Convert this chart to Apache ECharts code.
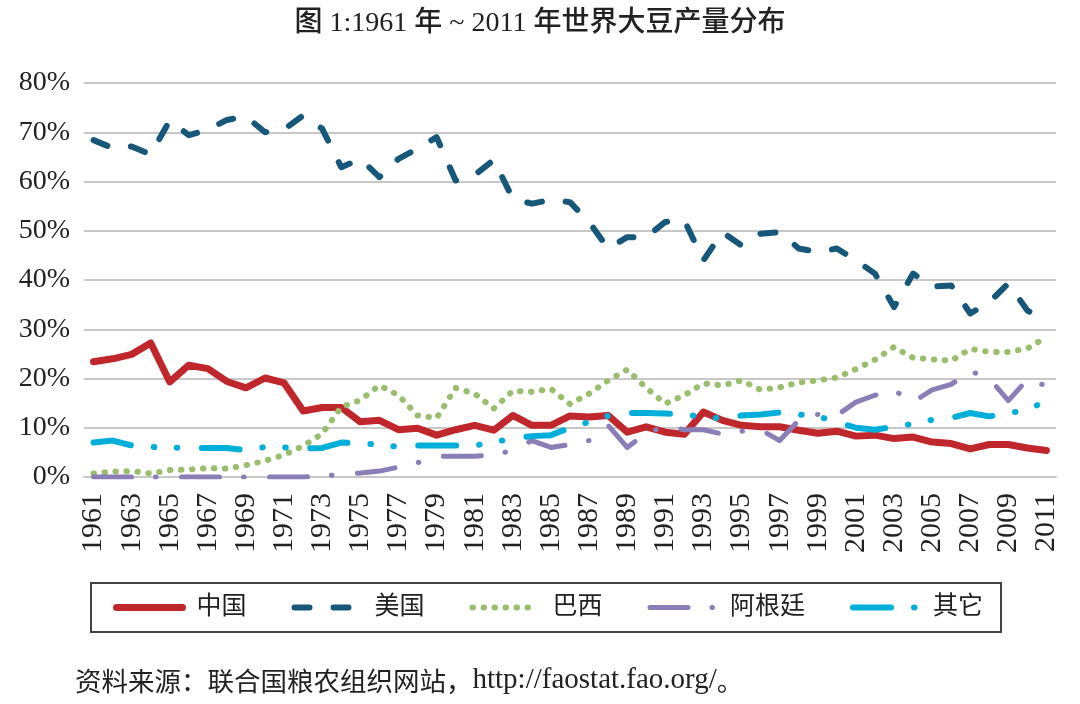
<!DOCTYPE html>
<html>
<head>
<meta charset="utf-8">
<script src="https://cdn.jsdelivr.net/npm/echarts@6/dist/echarts.min.js"></script>
<style>
  html, body { margin: 0; padding: 0; background: #fff; }
  #main { width: 1080px; height: 704px; }
</style>
</head>
<body>
<div id="main"></div>
<script>
// 年份 1961 ~ 2011
var years = [];
for (var y = 1961; y <= 2011; y++) { years.push(String(y)); }

// 各国占世界大豆产量的比例 (%)
var china = [23.4, 24.0, 24.9, 27.2, 19.3, 22.7, 22.0, 19.4, 18.1, 20.1,
  19.1, 13.4, 14.1, 14.1, 11.2, 11.5, 9.6, 9.9, 8.5, 9.6,
  10.5, 9.5, 12.5, 10.5, 10.5, 12.4, 12.2, 12.5, 9.1, 10.2,
  9.1, 8.7, 13.2, 11.5, 10.5, 10.2, 10.2, 9.5, 8.9, 9.3,
  8.3, 8.5, 7.8, 8.1, 7.1, 6.8, 5.7, 6.6, 6.6, 5.9, 5.4];
var usa = [68.4, 66.8, 67.1, 65.5, 72.4, 69.4, 70.5, 72.5, 73.2, 70.0,
  70.6, 73.4, 70.7, 62.9, 64.6, 60.9, 64.6, 66.7, 69.0, 60.2,
  61.3, 64.4, 56.5, 55.5, 56.3, 55.8, 51.8, 46.4, 48.7, 48.7,
  51.8, 52.1, 44.0, 49.7, 47.0, 49.4, 49.7, 46.4, 45.7, 46.4,
  44.0, 41.3, 34.5, 41.3, 38.7, 38.9, 33.2, 35.5, 39.3, 33.8, 31.7];
var brazil = [0.7, 1.1, 1.2, 0.7, 1.4, 1.5, 1.8, 1.7, 2.4, 3.3,
  4.5, 6.3, 8.8, 14.2, 15.6, 18.6, 16.6, 12.5, 12.0, 18.1,
  16.9, 13.9, 17.5, 17.3, 17.9, 14.8, 16.9, 19.6, 21.8, 18.1,
  14.9, 16.6, 19.0, 18.6, 19.6, 17.7, 18.2, 19.2, 19.6, 20.2,
  21.9, 23.8, 26.4, 24.2, 23.9, 23.6, 26.0, 25.4, 25.4, 26.1, 28.4];
var argentina = [0, 0, 0, 0, 0, 0, 0, 0, 0, 0,
  0, 0, 0.2, 0.5, 0.8, 1.2, 2.0, 2.9, 4.2, 4.2,
  4.2, 4.5, 5.4, 7.4, 6.0, 6.6, 7.4, 10.5, 6.0, 8.9,
  10.3, 9.6, 9.6, 8.7, 9.3, 9.6, 7.4, 11.5, 12.7, 12.5,
  15.2, 16.6, 17.6, 15.2, 17.7, 18.8, 21.5, 20.0, 15.5, 19.8, 18.5];
var others = [7.0, 7.4, 6.4, 6.1, 6.0, 5.9, 5.9, 5.9, 5.4, 6.1,
  6.0, 5.8, 5.9, 7.0, 6.8, 6.6, 6.1, 6.4, 6.4, 6.4,
  6.4, 7.1, 7.8, 8.3, 8.5, 10.0, 11.2, 12.4, 13.0, 13.0,
  12.9, 12.6, 12.3, 11.8, 12.5, 12.7, 13.1, 12.7, 12.3, 11.2,
  10.0, 9.6, 10.2, 10.8, 11.6, 12.0, 13.0, 12.3, 13.0, 13.6, 15.5];

var seriesNames = ['中国', '美国', '巴西', '阿根廷', '其它'];

var FONT = '"Liberation Serif", "Noto Sans CJK SC", serif';

// 线型: 颜色, 线宽, 虚线样式
var styles = [
    { color: '#c0272d', width: 7, dash: 'solid' },
    { color: '#17587a', width: 6, dash: [15, 24] },
    { color: '#9bbd6e', width: 6, dash: [0.5, 10.5] },
    { color: '#8b7db6', width: 5, dash: [38, 24, 0.5, 25.5] },
    { color: '#00afd9', width: 6, dash: [38, 23, 0.5, 22.5, 0.5, 24.5] }
];
var seriesData = [china, usa, brazil, argentina, others];

var series = [];
var legendData = [];
for (var i = 0; i < seriesNames.length; i++) {
    var s = styles[i];
    series.push({
        name: seriesNames[i],
        type: 'line',
        data: seriesData[i],
        symbol: 'none',
        lineStyle: { color: s.color, width: s.width, type: s.dash, cap: 'round', join: 'round' },
        itemStyle: { color: s.color }
    });
    legendData.push({
        name: seriesNames[i],
        itemStyle: { opacity: 0 },
        lineStyle: { width: s.width, type: s.dash, cap: 'round' }
    });
}

var myChart = echarts.init(document.getElementById('main'));
var option = {
    backgroundColor: '#fff',
    animation: false,
    title: {
        text: '图 1:1961 年 ~ 2011 年世界大豆产量分布',
        left: 'center',
        top: 5,
        textStyle: {
            fontFamily: FONT,
            fontSize: 28,
            fontWeight: 500,
            color: '#222'
        }
    },
    grid: {
        left: 84,
        right: 24,
        top: 83,
        bottom: 227,
        outerBoundsMode: 'none'
    },
    legend: {
        data: legendData,
        left: 91,
        top: 583,
        orient: 'horizontal',
        padding: [12, 18, 12, 22],
        itemGap: 45,
        itemWidth: 66,
        itemHeight: 14,
        borderColor: '#444',
        borderWidth: 2,
        textStyle: {
            fontFamily: FONT,
            fontSize: 25,
            color: '#222',
            padding: [0, 0, 0, 9]
        }
    },
    xAxis: {
        type: 'category',
        data: years,
        boundaryGap: true,
        axisLine: { show: true, lineStyle: { color: '#c8c8c8', width: 2 } },
        axisTick: { show: false },
        axisLabel: {
            interval: 1,
            rotate: 90,
            margin: 16,
            fontFamily: FONT,
            fontSize: 30,
            color: '#222'
        }
    },
    yAxis: {
        type: 'value',
        min: 0,
        max: 80,
        interval: 10,
        axisLine: { show: false },
        axisTick: { show: false },
        splitLine: { lineStyle: { color: '#c8c8c8', width: 2 } },
        axisLabel: {
            formatter: '{value}%',
            margin: 14,
            fontFamily: FONT,
            fontSize: 28,
            color: '#222'
        }
    },
    series: series,
    graphic: [{
        type: 'text',
        left: 75,
        top: 666,
        style: {
            text: '{a|资料来源：联合国粮农组织网站，}{b|http://faostat.fao.org/}{a|。}',
            rich: {
                a: { fontFamily: '"Noto Sans CJK SC", sans-serif', fontSize: 26.5, fill: '#222' },
                b: { fontFamily: '"Liberation Serif", serif', fontSize: 29, fill: '#222' }
            }
        }
    }]
};
myChart.setOption(option);
</script>
</body>
</html>
